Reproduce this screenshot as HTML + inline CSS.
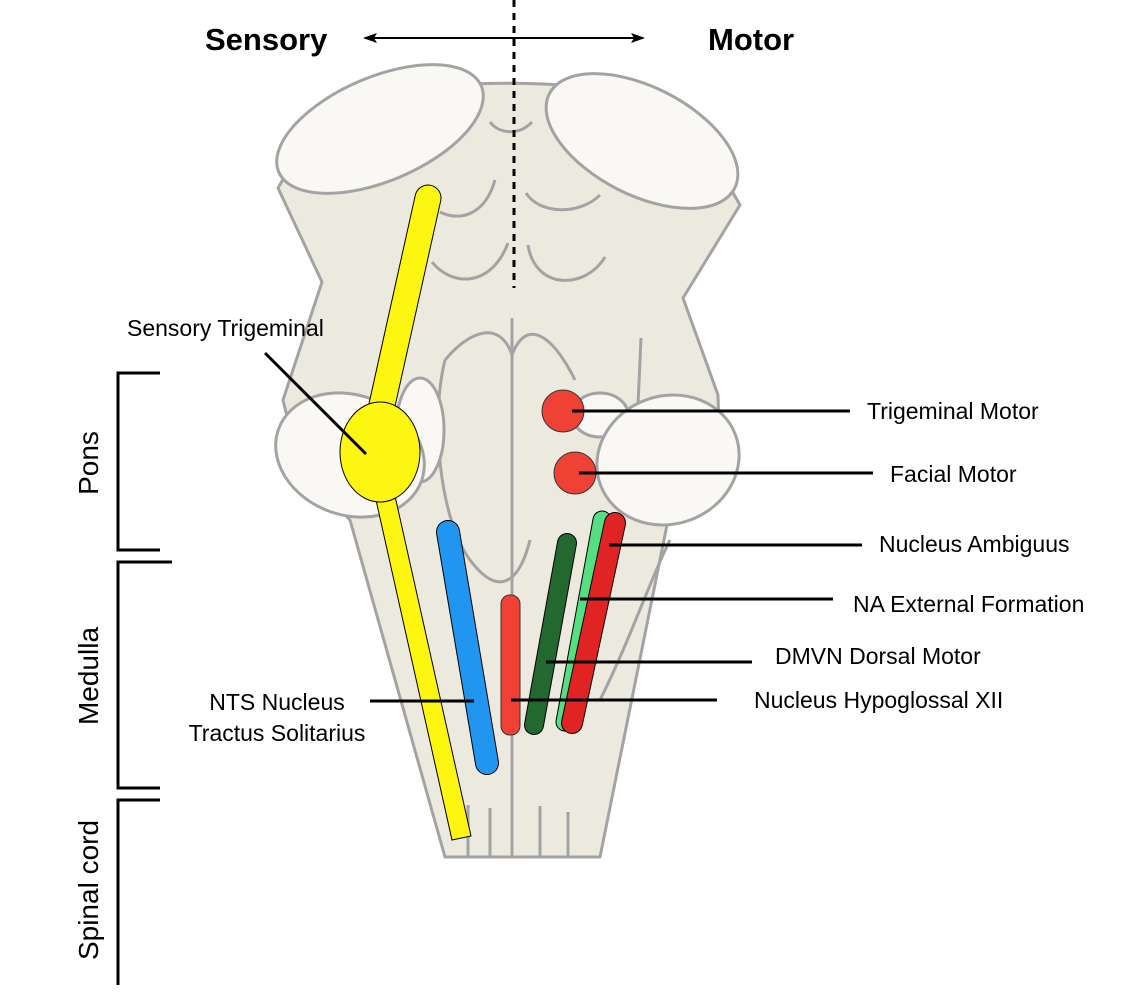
<!DOCTYPE html>
<html><head><meta charset="utf-8"><style>
html,body{margin:0;padding:0;background:#fff;}
svg{display:block;font-family:"Liberation Sans",Helvetica,Arial,sans-serif;}
</style></head><body>
<svg width="1146" height="994" viewBox="0 0 1146 994" xmlns="http://www.w3.org/2000/svg">
<defs>
<marker id="ah" markerWidth="14" markerHeight="10" refX="12" refY="5" orient="auto-start-reverse" markerUnits="userSpaceOnUse"><path d="M0,0 L14,5 L0,10 L3,5 Z" fill="#000"/></marker>
</defs>
<path d="M278,188 L322,282 L283,400 L300,470 L350,520 L445,857 L600,857 L668,520 L720,460 L718,395 L683,298 L740,205 L720,170 L600,90 C560,82 470,80 420,90 L300,150 Z" fill="#ece9df" stroke="#a3a3a3" stroke-width="3" stroke-linejoin="round"/>
<path d="M445,360 C470,330 500,320 512,355 C525,320 550,330 575,380" fill="none" stroke="#a3a3a3" stroke-width="3"/>
<path d="M445,360 C430,420 440,520 470,560 C500,600 520,580 530,540" fill="none" stroke="#a3a3a3" stroke-width="3"/>
<path d="M600,700 C630,640 650,580 670,540" fill="none" stroke="#a3a3a3" stroke-width="3"/>
<line x1="512" y1="318" x2="512" y2="857" stroke="#a3a3a3" stroke-width="3"/>
<line x1="641" y1="338" x2="638" y2="405" stroke="#a3a3a3" stroke-width="3"/>
<line x1="468" y1="805" x2="468" y2="857" stroke="#a3a3a3" stroke-width="3"/>
<line x1="490" y1="808" x2="490" y2="857" stroke="#a3a3a3" stroke-width="3"/>
<line x1="540" y1="806" x2="540" y2="857" stroke="#a3a3a3" stroke-width="3"/>
<line x1="568" y1="812" x2="568" y2="857" stroke="#a3a3a3" stroke-width="3"/>
<path d="M490,122 C500,135 520,135 532,122" fill="none" stroke="#a3a3a3" stroke-width="3"/>
<path d="M440,212 C460,222 485,215 495,180" fill="none" stroke="#a3a3a3" stroke-width="3"/>
<path d="M526,193 C540,215 580,215 600,195" fill="none" stroke="#a3a3a3" stroke-width="3"/>
<path d="M432,262 C450,285 490,290 508,243" fill="none" stroke="#a3a3a3" stroke-width="3"/>
<path d="M528,245 C535,290 585,290 605,257" fill="none" stroke="#a3a3a3" stroke-width="3"/>
<ellipse cx="380" cy="129" rx="110" ry="52" transform="rotate(-23 380 129)" fill="#f9f8f4" stroke="#a3a3a3" stroke-width="3"/>
<ellipse cx="642" cy="141" rx="104" ry="54" transform="rotate(27 642 141)" fill="#f9f8f4" stroke="#a3a3a3" stroke-width="3"/>
<ellipse cx="420" cy="430" rx="24" ry="52" fill="#f9f8f4" stroke="#a3a3a3" stroke-width="3"/>
<ellipse cx="350" cy="455" rx="76" ry="60" transform="rotate(20 350 455)" fill="#f9f8f4" stroke="#a3a3a3" stroke-width="3"/>
<ellipse cx="600" cy="415" rx="28" ry="22" fill="#f9f8f4" stroke="#a3a3a3" stroke-width="3"/>
<ellipse cx="668" cy="460" rx="72" ry="64" transform="rotate(-20 668 460)" fill="#f9f8f4" stroke="#a3a3a3" stroke-width="3"/>
<line x1="514" y1="0" x2="514" y2="288" stroke="#000" stroke-width="3" stroke-dasharray="7,6"/>
<line x1="365" y1="38" x2="643" y2="38" stroke="#000" stroke-width="2" marker-start="url(#ah)" marker-end="url(#ah)"/>
<text x="205" y="50" font-size="31" font-weight="bold">Sensory</text>
<text x="708" y="50" font-size="31" font-weight="bold">Motor</text>
<line x1="428" y1="198" x2="382" y2="405" stroke="#000" stroke-width="27" stroke-linecap="round"/>
<line x1="428" y1="198" x2="382" y2="405" stroke="#fdf611" stroke-width="25" stroke-linecap="round"/>
<polygon points="376,500 395,496 471,836 452,840" fill="#fdf611" stroke="#000" stroke-width="1"/>
<ellipse cx="380" cy="452" rx="40" ry="50" fill="#fdf611" stroke="#000" stroke-width="1"/>
<line x1="448" y1="532" x2="487" y2="763" stroke="#000" stroke-width="24" stroke-linecap="round"/>
<line x1="448" y1="532" x2="487" y2="763" stroke="#2196f0" stroke-width="22" stroke-linecap="round"/>
<rect x="501" y="595" width="19" height="140" rx="9" fill="#f04234" stroke="#333" stroke-width="1"/>
<line x1="567" y1="543" x2="534" y2="725" stroke="#000" stroke-width="20" stroke-linecap="round"/>
<line x1="567" y1="543" x2="534" y2="725" stroke="#23682e" stroke-width="18" stroke-linecap="round"/>
<line x1="602" y1="520" x2="565" y2="722" stroke="#000" stroke-width="19" stroke-linecap="round"/>
<line x1="602" y1="520" x2="565" y2="722" stroke="#56df80" stroke-width="17" stroke-linecap="round"/>
<line x1="615" y1="523" x2="572" y2="723" stroke="#000" stroke-width="22" stroke-linecap="round"/>
<line x1="615" y1="523" x2="572" y2="723" stroke="#e02424" stroke-width="20" stroke-linecap="round"/>
<circle cx="563" cy="411" r="21" fill="#f04234" stroke="#333" stroke-width="1"/>
<circle cx="575" cy="473" r="21" fill="#f04234" stroke="#333" stroke-width="1"/>
<g stroke="#000" stroke-width="3">
<line x1="572" y1="411" x2="850" y2="411"/>
<line x1="579" y1="473" x2="873" y2="473"/>
<line x1="609" y1="545" x2="862" y2="545"/>
<line x1="580" y1="599" x2="833" y2="599"/>
<line x1="546" y1="662" x2="752" y2="662"/>
<line x1="511" y1="700" x2="717" y2="700"/>
<line x1="370" y1="701" x2="474" y2="701"/>
<line x1="265" y1="353" x2="366" y2="454"/>
</g>
<g font-size="23" fill="#000">
<text x="127" y="336">Sensory Trigeminal</text>
<text x="867" y="419">Trigeminal Motor</text>
<text x="890" y="482">Facial Motor</text>
<text x="879" y="552">Nucleus Ambiguus</text>
<text x="853" y="612">NA External Formation</text>
<text x="775" y="664">DMVN Dorsal Motor</text>
<text x="754" y="708">Nucleus Hypoglossal XII</text>
<text x="277" y="710" text-anchor="middle">NTS Nucleus</text>
<text x="277" y="741" text-anchor="middle">Tractus Solitarius</text>
</g>
<g stroke="#000" stroke-width="3" fill="none">
<path d="M160,373 H118 V550 H160"/>
<path d="M172,562 H118 V788 H160"/>
<path d="M160,800 H118 V985"/>
</g>
<g font-size="28" fill="#000" text-anchor="middle">
<text transform="translate(98,463) rotate(-90)">Pons</text>
<text transform="translate(98,676) rotate(-90)">Medulla</text>
<text transform="translate(98,890) rotate(-90)">Spinal cord</text>
</g>
</svg>
</body></html>
